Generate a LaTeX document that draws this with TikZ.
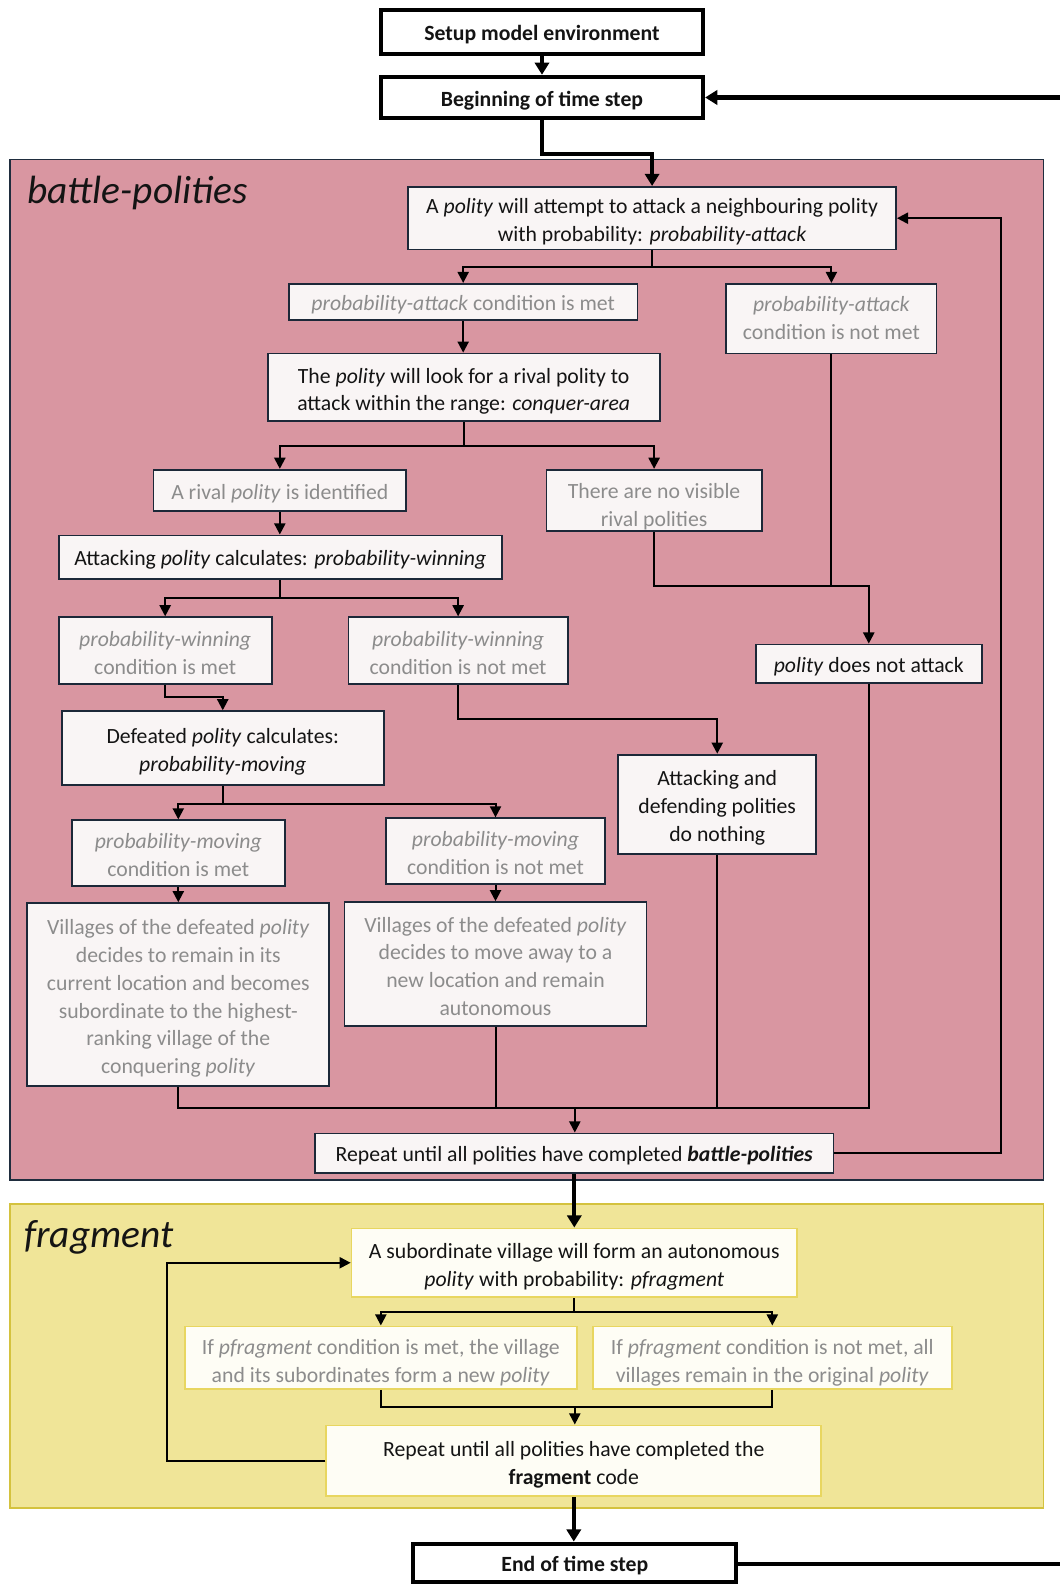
\documentclass[tikz,border=0pt]{standalone}
\usepackage{fontspec}
\setmainfont{Carlito}
\usetikzlibrary{arrows.meta,calc}

\definecolor{pinkbg}{RGB}{217,150,161}
\definecolor{pinkedge}{RGB}{31,45,62}
\definecolor{yellowbg}{RGB}{240,229,152}
\definecolor{yellowedge}{RGB}{212,194,62}
\definecolor{boxfill}{RGB}{249,245,245}
\definecolor{boxedge}{RGB}{28,40,56}
\definecolor{yboxfill}{RGB}{254,253,245}
\definecolor{yboxedge}{RGB}{232,214,96}
\definecolor{greytext}{RGB}{140,140,140}
\definecolor{darktext}{RGB}{20,20,20}

% extra height on the first line of a multi-line box, so the text block sits a little low
\newcommand\boxlead{\rule{0pt}{24pt}}

\tikzset{
  txt/.style={font=\fontsize{21.5}{27.5}\selectfont, align=center, inner sep=0pt, text=darktext,
              execute at begin node={\rule{0pt}{22pt}},
              execute at end node={\rule[-5pt]{0pt}{5pt}}},
  multi/.style={execute at begin node={}, execute at end node={}},
  pbox/.style={txt, draw=boxedge, fill=boxfill, line width=1.8pt, rectangle},
  ybox/.style={txt, draw=yboxedge, fill=yboxfill, line width=1.8pt, rectangle},
  faint/.style={text=greytext},
  keybox/.style={txt, draw=black, fill=white, line width=4pt, rectangle,
                 font=\fontsize{21.5}{26}\selectfont\bfseries},
  conn/.style={draw=black, line width=2pt},
  arr/.style={conn, -{Triangle[width=11pt,length=11pt]}},
  heavy/.style={draw=black, line width=4pt},
  heavyarr/.style={heavy, -{Triangle[width=14pt,length=12pt]}},
  region title/.style={font=\fontsize{39}{44}\selectfont\itshape, anchor=west, inner sep=0pt, text=darktext}
}

\begin{document}
\begin{tikzpicture}[x=1pt,y=-1pt]
\useasboundingbox (0,0) rectangle (1049,1568);
\fill[white] (0,0) rectangle (1049,1568);

% ---------- regions ----------
\draw[fill=pinkbg, draw=pinkedge, line width=1.5pt] (10,158) rectangle (1033,1168);
\node[region title] (bptitle) at (27,191) {battle-polities};
\draw[fill=yellowbg, draw=yellowedge, line width=1.8pt] (10,1192) rectangle (1033,1493);
\node[region title] (frtitle) at (24,1225) {fragment};

% ---------- time-step boxes ----------
\node[keybox, minimum width=319pt, minimum height=43pt] (setup) at (536.5,31.5) {Setup model environment};
\node[keybox, minimum width=319pt, minimum height=41pt] (begin) at (536.5,96.5) {Beginning of time step};
\node[keybox, minimum width=320pt, minimum height=38pt] (end) at (569,1547) {End of time step};
\coordinate (rightin) at (1049,96.5);
\coordinate (rightout) at (1049,1548);

% ---------- battle-polities ----------
\node[pbox, multi, minimum width=483pt, minimum height=62pt] (A) at (645.5,216)
  {\boxlead A \textit{polity} will attempt to attack a neighbouring polity\\with probability: \textit{probability-attack}};
\node[pbox, faint, minimum width=345pt, minimum height=36pt] (B1) at (458.5,299)
  {\textit{probability-attack} condition is met};
\node[pbox, multi, faint, minimum width=208pt, minimum height=69pt] (B2) at (823,315.5)
  {\rule{0pt}{18pt}\textit{probability-attack}\\condition is not met};
\node[pbox, multi, minimum width=388pt, minimum height=67pt] (C) at (459,383.5)
  {\boxlead The \textit{polity} will look for a rival polity to\\attack within the range: \textit{conquer-area}};
\node[pbox, faint, minimum width=250pt, minimum height=41pt] (D1) at (277,485.5)
  {A rival \textit{polity} is identified};
\node[pbox, multi, faint, minimum width=213pt, minimum height=61pt] (D2) at (647.5,495.5)
  {\rule{0pt}{28pt}There are no visible\\rival polities};
\node[pbox, minimum width=439pt, minimum height=43pt] (E) at (277.5,551.5)
  {Attacking \textit{polity} calculates: \textit{probability-winning}};
\node[pbox, multi, faint, minimum width=211pt, minimum height=66pt] (F1) at (163.5,644)
  {\boxlead\textit{probability-winning}\\condition is met};
\node[pbox, multi, faint, minimum width=217pt, minimum height=66pt] (F2) at (453.5,644)
  {\boxlead\textit{probability-winning}\\condition is not met};
\node[pbox, multi, minimum width=319pt, minimum height=73pt] (G) at (220.5,740.5)
  {\boxlead Defeated \textit{polity} calculates:\\\textit{probability-moving}};
\node[pbox, multi, faint, minimum width=211pt, minimum height=65pt] (H1) at (176.5,844.5)
  {\boxlead\textit{probability-moving}\\condition is met};
\node[pbox, multi, faint, minimum width=217pt, minimum height=65pt] (H2) at (490.5,842.5)
  {\boxlead\textit{probability-moving}\\condition is not met};
\node[pbox, multi, faint, minimum width=299pt, minimum height=181pt] (I1) at (176.5,984.5)
  {\boxlead Villages of the defeated \textit{polity}\\decides to remain in its\\current location and becomes\\subordinate to the highest-\\ranking village of the\\conquering \textit{polity}};
\node[pbox, multi, faint, minimum width=299pt, minimum height=123pt] (I2) at (490.5,954.5)
  {\boxlead Villages of the defeated \textit{polity}\\decides to move away to a\\new location and remain\\autonomous};
\node[pbox, multi, minimum width=196pt, minimum height=98pt] (J) at (710,796)
  {\boxlead Attacking and\\defending polities\\do nothing};
\node[pbox, minimum width=224pt, minimum height=38pt] (K) at (860,657)
  {\textit{polity} does not attack};
\node[pbox, minimum width=513pt, minimum height=39pt] (L) at (568.5,1141.5)
  {Repeat until all polities have completed \textbf{\textit{battle-polities}}};

% ---------- fragment ----------
\node[ybox, multi, minimum width=441pt, minimum height=68pt] (M) at (568.5,1250)
  {\boxlead A subordinate village will form an autonomous\\\textit{polity} with probability: \textit{pfragment}};
\node[ybox, multi, faint, minimum width=388pt, minimum height=62pt] (N1) at (377,1344)
  {\rule{0pt}{26pt}If \textit{pfragment} condition is met, the village\\and its subordinates form a new \textit{polity}};
\node[ybox, multi, faint, minimum width=355pt, minimum height=62pt] (N2) at (764.5,1344)
  {\rule{0pt}{26pt}If \textit{pfragment} condition is not met, all\\villages remain in the original \textit{polity}};
\node[ybox, multi, minimum width=490pt, minimum height=70pt] (O) at (568,1446)
  {\boxlead Repeat until all polities have completed the\\\textbf{fragment} code};

% ---------- heavy connectors ----------
\draw[heavyarr] (setup.south) -- (begin.north);
\draw[heavyarr] (rightin) -- (begin.east);
\draw[heavyarr] (begin.south) -- ++(0,33) -| (A.north);
\draw[heavyarr] (L.south) -- (M.north);
\draw[heavyarr] (O.south) -- (O.south |- end.north);
\draw[heavy] (end.east |- rightout) -- (rightout);

% ---------- battle-polities connectors ----------
\coordinate (a1) at ($(A.south)+(0,16)$);
\draw[conn] (A.south) -- (a1);
\draw[arr] (a1) -| (B1.north);
\draw[arr] (a1) -| (B2.north);
\draw[arr] (B1.south) -- (B1.south |- C.north);
\coordinate (c1) at ($(C.south)+(0,24)$);
\draw[conn] (C.south) -- (c1);
\draw[arr] (c1) -| (D1.north);
\draw[arr] (c1) -| (D2.north);
\draw[arr] (D1.south) -- (D1.south |- E.north);
\coordinate (e1) at ($(E.south)+(0,18)$);
\draw[conn] (E.south) -- (e1);
\draw[arr] (e1) -| (F1.north);
\draw[arr] (e1) -| (F2.north);
\draw[arr] (F1.south) -- ++(0,12) -| (G.north);
\coordinate (g1) at ($(G.south)+(0,18)$);
\draw[conn] (G.south) -- (g1);
\draw[arr] (g1) -| (H1.north);
\draw[arr] (g1) -| (H2.north);
\draw[arr] (H1.south) -- (H1.south |- I1.north);
\draw[arr] (H2.south) -- (H2.south |- I2.north);
\draw[arr] (F2.south) -- ++(0,34) -| (J.north);
\coordinate (k1) at (860,580);
\draw[arr] (D2.south) |- (k1) -- (K.north);
\draw[conn] (B2.south) -- (B2.south |- k1);
\coordinate (m1) at (569,1097);
\draw[conn] (I1.south) |- (m1);
\draw[conn] (I2.south) |- (m1);
\draw[conn] (J.south) |- (m1);
\draw[conn] (K.south) |- (m1);
\draw[arr] (m1) -- (m1 |- L.north);
\draw[arr] (L.east) -- ++(165,0) |- (A.east);

% ---------- fragment connectors ----------
\coordinate (f1) at ($(M.south)+(0,14)$);
\draw[conn] (M.south) -- (f1);
\draw[arr] (f1) -| (N1.north);
\draw[arr] (f1) -| (N2.north);
\coordinate (o1) at (569,1393);
\draw[conn] (N1.south) |- (o1);
\draw[conn] (N2.south) |- (o1);
\draw[arr] (o1) -- (o1 |- O.north);
\draw[arr] (O.west) -- ++(-157,0) |- (M.west);
\end{tikzpicture}
\end{document}
